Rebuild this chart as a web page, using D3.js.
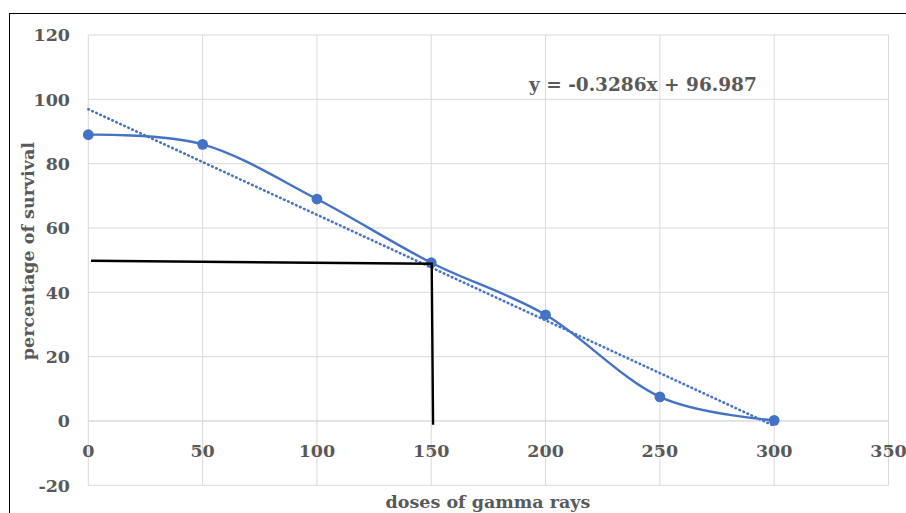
<!DOCTYPE html>
<html>
<head>
<meta charset="utf-8">
<script src="https://cdn.jsdelivr.net/npm/d3@7"></script>
<style>
  body { margin: 0; background: #fff; }
  svg { display: block; }
  text { font-family: "DejaVu Serif", serif; font-weight: bold; fill: #595959; }
</style>
</head>
<body>
<svg id="chart"></svg>
<script>
// dose (gamma rays) vs survival %
const doses = [0, 50, 100, 150, 200, 250, 300]
const survival = [89, 86, 69, 49.2, 33, 7.5, 0.2]
const xTicks = [0, 50, 100, 150, 200, 250, 300, 350]
const yTicks = [-20, 0, 20, 40, 60, 80, 100, 120]
// hand drawn reading lines (data units)
const guideX = [1.2, 150.2, 150.8]
const guideY = [49.8, 48.9, -1.2]
const equation = "y = -0.3286x + 96.987"

const width = 906, height = 513
const svg = d3.select("#chart").attr("width", width).attr("height", height)

const x = d3.scaleLinear().domain([0, 350]).range([88.3, 888.5])
const y = d3.scaleLinear().domain([-20, 120]).range([485.3, 35])

// outer frame
svg.append("rect")
  .attr("x", 9.5).attr("y", 13.5)
  .attr("width", 920).attr("height", 520)
  .attr("fill", "none").attr("stroke", "#000").attr("stroke-width", 1)

// gridlines
svg.append("g")
  .selectAll("line")
  .data(yTicks)
  .enter()
  .append("line")
  .attr("x1", x(0)).attr("x2", x(350))
  .attr("y1", d => y(d)).attr("y2", d => y(d))
  .attr("stroke", d => d === 0 ? "#c8c8c8" : "#d9d9d9")
  .attr("stroke-width", 1)

svg.append("g")
  .selectAll("line")
  .data(xTicks)
  .enter()
  .append("line")
  .attr("x1", d => x(d)).attr("x2", d => x(d))
  .attr("y1", y(120)).attr("y2", y(-20))
  .attr("stroke", "#d9d9d9")
  .attr("stroke-width", 1)

// y tick labels
svg.append("g")
  .selectAll("text")
  .data(yTicks)
  .enter()
  .append("text")
  .attr("x", 70)
  .attr("y", d => y(d))
  .attr("dy", "0.36em")
  .attr("text-anchor", "end")
  .attr("font-size", 17.5)
  .text(d => d)

// x tick labels, sitting under the zero line
svg.append("g")
  .selectAll("text")
  .data(xTicks)
  .enter()
  .append("text")
  .attr("x", d => x(d))
  .attr("y", y(0) + 30)
  .attr("dy", "0.36em")
  .attr("text-anchor", "middle")
  .attr("font-size", 17.5)
  .text(d => d)

// axis titles
svg.append("text")
  .attr("transform", `translate(34, ${(y(120) + y(-20)) / 2 - 9}) rotate(-90)`)
  .attr("text-anchor", "middle")
  .attr("font-size", 17.5)
  .text("percentage of survival")

svg.append("text")
  .attr("x", 488)
  .attr("y", 508)
  .attr("text-anchor", "middle")
  .attr("font-size", 17.5)
  .text("doses of gamma rays")

// linear trendline from least squares
const pts = doses.map((d, i) => [d, survival[i]])
const mx = d3.mean(doses), my = d3.mean(survival)
const slope = d3.sum(pts, p => (p[0] - mx) * (p[1] - my)) / d3.sum(pts, p => (p[0] - mx) ** 2)
const icpt = my - slope * mx

svg.append("line")
  .attr("x1", x(0)).attr("y1", y(icpt))
  .attr("x2", x(300)).attr("y2", y(icpt + slope * 300))
  .attr("stroke", "#4472c4")
  .attr("stroke-width", 2.6)
  .attr("stroke-dasharray", "0.6 3.8")
  .attr("stroke-linecap", "round")

// smoothed series
const line = d3.line()
  .x(d => x(d[0]))
  .y(d => y(d[1]))
  .curve(d3.curveCatmullRom.alpha(0))

svg.append("path")
  .datum(pts)
  .attr("d", line)
  .attr("fill", "none")
  .attr("stroke", "#4472c4")
  .attr("stroke-width", 2.4)

svg.append("g")
  .selectAll("circle")
  .data(pts)
  .enter()
  .append("circle")
  .attr("cx", d => x(d[0]))
  .attr("cy", d => y(d[1]))
  .attr("r", 5.4)
  .attr("fill", "#4472c4")

// black reading lines
svg.append("path")
  .datum(guideX.map((d, i) => [d, guideY[i]]))
  .attr("d", d3.line().x(d => x(d[0])).y(d => y(d[1])))
  .attr("fill", "none")
  .attr("stroke", "#000")
  .attr("stroke-width", 2.4)

svg.append("text")
  .attr("x", 529)
  .attr("y", 84)
  .attr("dy", "0.36em")
  .attr("font-size", 18.5)
  .text(equation)
</script>
</body>
</html>
